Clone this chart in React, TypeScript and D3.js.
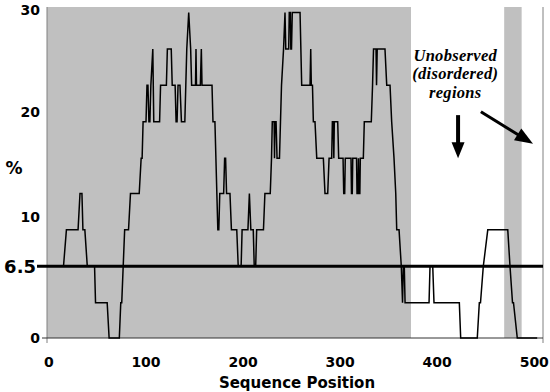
import React from 'react';
import * as d3 from 'd3';

// chart values
const xTicks = [0, 100, 200, 300, 400, 500];
const yTicks = [0, 10, 20, 30];
const threshold = 6.5;
// residues seen in the structure (grey bands)
const observedRegions: [number, number][] = [[-2, 373], [469, 487]];
const annotationLines = ['Unobserved', '(disordered)', 'regions'];

// [sequence position, %]
const profile: [number, number][] = [
  [15, 6.5], [18, 9.8], [30, 9.8], [32, 13.1], [34, 13.1], [35, 9.8], [37, 9.8], [39.5, 6.5],
  [47, 6.5], [48, 3.2], [60, 3.2], [62, 0], [72.5, 0], [74, 3.2], [75, 3.2], [78, 9.8],
  [82, 9.8], [84, 13.1], [93, 13.1], [95, 16.3], [96, 16.3], [97, 19.6], [100, 19.6],
  [101, 22.9], [102, 22.9], [103, 19.6], [104, 19.6], [105, 22.9], [107, 26.2], [108, 19.6],
  [114, 19.6], [115, 22.9], [121, 22.9], [122, 26.2], [126, 26.2], [127, 22.9], [130, 22.9],
  [131, 19.6], [132, 19.6], [133, 22.9], [135, 22.9], [136.5, 19.6], [140, 19.6], [141, 22.9],
  [142, 26.2], [144, 29.5], [146, 26.2], [147, 22.9], [151, 22.9], [151.5, 26.2], [152, 22.9],
  [156, 22.9], [157, 26.2], [157.7, 22.9], [168, 22.9], [169, 19.6], [171, 19.6], [174, 9.8],
  [175, 9.8], [176, 13.1], [180, 13.1], [181, 16.3], [182, 16.3], [183, 13.1], [186.5, 13.1],
  [188, 9.8], [193.5, 9.8], [195, 6.5], [198, 6.5], [199, 9.8], [205, 9.8], [206.5, 13.1],
  [208, 9.8], [210.5, 9.8], [211.5, 6.5], [213, 6.5], [214, 9.8], [221, 9.8], [222.5, 13.1],
  [228, 13.1], [229.3, 16.3], [230.1, 19.6], [232, 19.6], [232.4, 16.3], [232.9, 19.6],
  [234, 19.6], [235, 16.3], [237.5, 16.3], [239.6, 22.9], [241.7, 26.2], [243.2, 29.5],
  [244, 26.2], [247, 26.2], [247.6, 29.5], [248.7, 29.5], [249.2, 26.2], [249.9, 26.2],
  [250.7, 29.5], [258.7, 29.5], [260.4, 22.9], [269, 22.9], [269.7, 26.2], [270.3, 22.9],
  [271.5, 22.9], [272.4, 19.6], [274.1, 19.6], [275.9, 16.3], [282.7, 16.3], [284.4, 13.1],
  [287.2, 13.1], [288.6, 16.3], [291.3, 16.3], [292, 19.6], [293, 19.6], [293.5, 16.3],
  [294, 19.6], [297.5, 19.6], [298.5, 16.3], [303, 16.3], [303.7, 13.1], [304.7, 13.1],
  [305.3, 16.3], [311.2, 16.3], [311.7, 13.1], [312.5, 13.1], [313, 16.3], [316.9, 16.3],
  [317.4, 13.1], [318.4, 13.1], [318.9, 16.3], [319.4, 13.1], [320.3, 13.1], [320.8, 16.3],
  [323.9, 16.3], [324.9, 19.6], [332.1, 19.6], [333.4, 22.9], [334.4, 26.2], [337, 26.2],
  [337.5, 22.9], [338.2, 26.2], [346.2, 26.2], [348, 22.9], [351.4, 22.9], [353.1, 19.6],
  [355.5, 16.3], [357.3, 13.1], [358.3, 9.8], [360.7, 9.8], [363, 6.5], [364.3, 3.2],
  [365.1, 6.5], [366.1, 6.5], [366.9, 3.2], [391.6, 3.2], [392.6, 6.5], [395.4, 6.5],
  [396.7, 3.2], [422.8, 3.2], [424.2, 0], [441.3, 0], [443.4, 3.2], [444.6, 3.2], [447.5, 6.5],
  [452.1, 9.8], [472.7, 9.8], [475, 6.5], [477.6, 3.2], [478.6, 3.2], [482.5, 0], [503, 0],
];

const width = 550;
const height = 392;
const margin = { top: 7, right: 7, bottom: 54, left: 47 };

const x = d3.scaleLinear().domain([-2, 509]).range([margin.left, width - margin.right]);
const y = d3.scaleLinear().domain([0, 30]).range([height - margin.bottom, margin.top]);
// the tick labels in the original sit a little off their values
const yLabel = d3.scaleLinear().domain([0, 10, 20, 30]).range([338, 217, 112, 10]);

const line = d3.line<[number, number]>()
  .x(d => x(d[0]))
  .y(d => y(d[1]));

// arrow as stem + triangular head, in pixels
function arrow(x1: number, y1: number, x2: number, y2: number, headLen: number, headHalf: number) {
  const dx = x2 - x1, dy = y2 - y1;
  const len = Math.hypot(dx, dy);
  const ux = dx / len, uy = dy / len;
  const bx = x2 - ux * headLen, by = y2 - uy * headLen;
  const px = -uy * headHalf, py = ux * headHalf;
  return {
    stem: [x1, y1, bx + ux, by + uy],
    head: `${x2},${y2} ${bx + px},${by + py} ${bx - px},${by - py}`,
  };
}

const App = () => {
  const x0 = margin.left;
  const x1 = width - margin.right;
  const yTop = margin.top;
  const yBot = height - margin.bottom;

  const down = arrow(x(421.5), y(20.2), x(421.5), y(16.3), 16, 6.5);
  const diag = arrow(x(445), y(20.5), x(498.7), y(17.6), 18, 7);

  return (
    <svg width={width} height={height} style={{ position: 'absolute', left: 0, top: 0, background: '#fff' }}>
      {observedRegions.map(([a, b], i) => (
        <rect key={i} x={x(a)} y={yTop} width={x(b) - x(a)} height={yBot - yTop} fill="#C0C0C0" />
      ))}

      {/* axes */}
      <line x1={x0} x2={x0} y1={yTop} y2={yBot + 5} stroke="#808080" strokeWidth={1} />
      <line x1={x1} x2={x1} y1={yTop} y2={yBot + 5} stroke="#808080" strokeWidth={1} />
      <line x1={x0 - 5} x2={x1} y1={yBot} y2={yBot} stroke="#333" strokeWidth={1} />

      {/* 6.5 reference line */}
      <line x1={37} x2={x1} y1={y(threshold)} y2={y(threshold)} stroke="#000" strokeWidth={3} />

      <path d={line(profile) || ''} fill="none" stroke="#000" strokeWidth={1.5} strokeLinejoin="miter" />

      {/* tick labels */}
      <g fontFamily="DejaVu Sans" fontWeight="bold" fontSize={14} fill="#000">
        {yTicks.map(t => (
          <text key={t} x={40} y={yLabel(t)} dy="0.36em" textAnchor="end">{t}</text>
        ))}
        {xTicks.map(t => (
          <text key={t} x={x(t)} y={362} dy="0.36em" textAnchor="middle">{t}</text>
        ))}
      </g>
      <text x={36} y={y(threshold)} dy="0.36em" textAnchor="end" fontFamily="DejaVu Sans" fontWeight="bold" fontSize={18}>
        {threshold}
      </text>
      <text x={14} y={168} dy="0.36em" textAnchor="middle" fontFamily="DejaVu Sans" fontWeight="bold" fontSize={17}>%</text>
      <text x={(x0 + x1) / 2 + 2} y={388} textAnchor="middle" fontFamily="DejaVu Sans" fontWeight="bold" fontSize={15}>
        Sequence Position
      </text>

      {/* annotation */}
      <g fontFamily="Liberation Serif" fontWeight="bold" fontStyle="italic" fontSize={16.5} textAnchor="middle" letterSpacing={0.3}>
        {annotationLines.map((s, i) => (
          <text key={s} x={x(418.6)} y={60.5 + i * 18.5}>{s}</text>
        ))}
      </g>
      <line x1={down.stem[0]} y1={down.stem[1]} x2={down.stem[2]} y2={down.stem[3]} stroke="#000" strokeWidth={4} />
      <polygon points={down.head} fill="#000" />
      <line x1={diag.stem[0]} y1={diag.stem[1]} x2={diag.stem[2]} y2={diag.stem[3]} stroke="#000" strokeWidth={3} />
      <polygon points={diag.head} fill="#000" />
    </svg>
  );
};

export default App;
